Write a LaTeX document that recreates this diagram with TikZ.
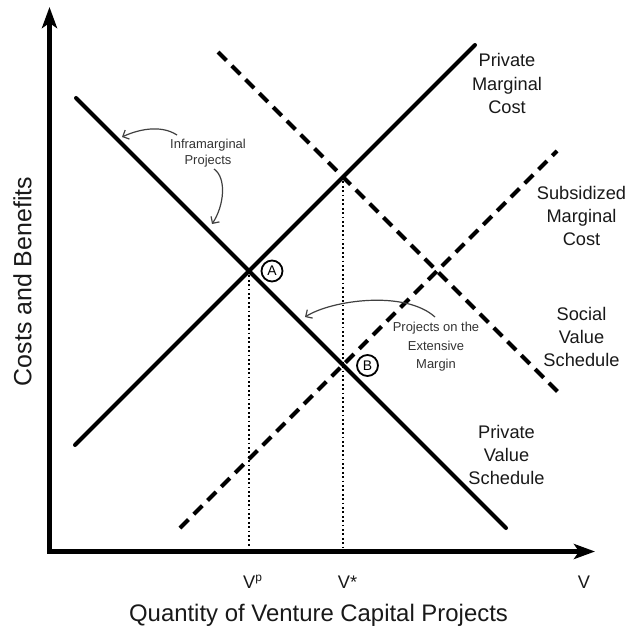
\documentclass[tikz,border=0pt]{standalone}
\usepackage{fontspec}
\setmainfont{Liberation Sans}
\usetikzlibrary{arrows.meta}
\begin{document}
\begin{tikzpicture}[x=1bp,y=-1bp,
  axis/.style={line width=5.5bp, line join=miter},
  curve/.style={line width=4bp, line cap=round},
  dcurve/.style={line width=4bp, dash pattern=on 12bp off 7.5bp},
  guide/.style={line width=1.8bp, dash pattern=on 1.8bp off 2.6bp},
  note/.style={text=black!80, font=\fontsize{13}{16.7}\selectfont, align=center, inner sep=0pt},
  lbl/.style={text=black!90, font=\fontsize{18.3}{23.5}\selectfont, align=center, inner sep=0pt},
  ticklbl/.style={text=black!90, font=\fontsize{18.3}{22}\selectfont, inner sep=0pt, anchor=base},
  pointer/.style={draw=black!75, line width=1.2bp, -{Straight Barb[length=5bp,width=10bp]}},
  ptlabel/.style={circle, draw, fill=white, line width=1.8bp, minimum size=21bp, inner sep=0pt, font=\fontsize{14}{14}\selectfont}
]
\fill[white] (0,0) rectangle (633,630);
\useasboundingbox (0,0) rectangle (633,630);

% axes
\coordinate (ytip) at (49.5,7);
\coordinate (origin) at (49.5,551.5);
\coordinate (xtip) at (595,551.5);
\draw[axis, {Stealth[length=21bp,width=15bp,inset=5bp]}-{Stealth[length=21bp,width=15bp,inset=5bp]}] (ytip) -- (origin) -- (xtip);

% curve end points
\coordinate (pmc1) at (75,445);
\coordinate (pmc2) at (475,45);
\coordinate (pvs1) at (76,98);
\coordinate (pvs2) at (506,528);
\coordinate (svs1) at (218,52);
\coordinate (svs2) at (560,394);
\coordinate (smc1) at (180,528);
\coordinate (smc2) at (557,151);

% intersections
\coordinate (A) at (249,271);
\coordinate (S) at (343,177);
\coordinate (B) at (343,365);
\coordinate (Ab) at (249,548);
\coordinate (Sb) at (343,548);

% dotted guides
\draw[guide] (A) -- (Ab);
\draw[guide] (S) -- (Sb);

% schedules
\draw[curve] (pmc1) -- (pmc2);
\draw[curve] (pvs1) -- (pvs2);
\draw[dcurve] (svs1) -- (svs2);
\draw[dcurve] (smc1) -- (smc2);

% point labels
\node[ptlabel] (ca) at (272,271) {A};
\node[ptlabel] (cb) at (367.5,365.5) {B};

% curve labels
\node[lbl] (pmc) at (507,83.5) {Private\\Marginal\\Cost};
\node[lbl] (smc) at (581.5,216) {Subsidized\\Marginal\\Cost};
\node[lbl] (svs) at (581.5,337) {Social\\Value\\Schedule};
\node[lbl] (pvs) at (506.5,455) {Private\\Value\\Schedule};

% annotations
\node[note] (inf) at (208,153.3) {Inframarginal\\Projects};
\node[note, font=\fontsize{13}{18.3}\selectfont] (ext) at (436,346.7) {Projects on the\\Extensive\\Margin};

\coordinate (i1s) at (177,135);
\coordinate (i1e) at (122,137);
\coordinate (i2s) at (214,169);
\coordinate (i2e) at (212,224);
\coordinate (e1s) at (435,317);
\coordinate (e1e) at (305,317);
\draw[pointer] (i1s) .. controls (160,124) and (137,130) .. (i1e);
\draw[pointer] (i2s) .. controls (227,178) and (224,206) .. (i2e);
\draw[pointer] (e1s) .. controls (405,290) and (332,300) .. (e1e);

% axis ticks and titles
\node[ticklbl] (vp) at (252.5,588) {V\raisebox{6.5bp}{\fontsize{12}{12}\selectfont p}};
\node[ticklbl] (vs) at (347.5,588) {V*};
\node[ticklbl] (vv) at (584,588) {V};
\node[text=black!90, font=\fontsize{24}{28}\selectfont, inner sep=0pt, anchor=base] (xlab) at (318.5,621) {Quantity of Venture Capital Projects};
\node[text=black!90, font=\fontsize{25}{28}\selectfont, inner sep=0pt, rotate=90] (ylab) at (22.5,281.5) {Costs and Benefits};
\end{tikzpicture}
\end{document}
